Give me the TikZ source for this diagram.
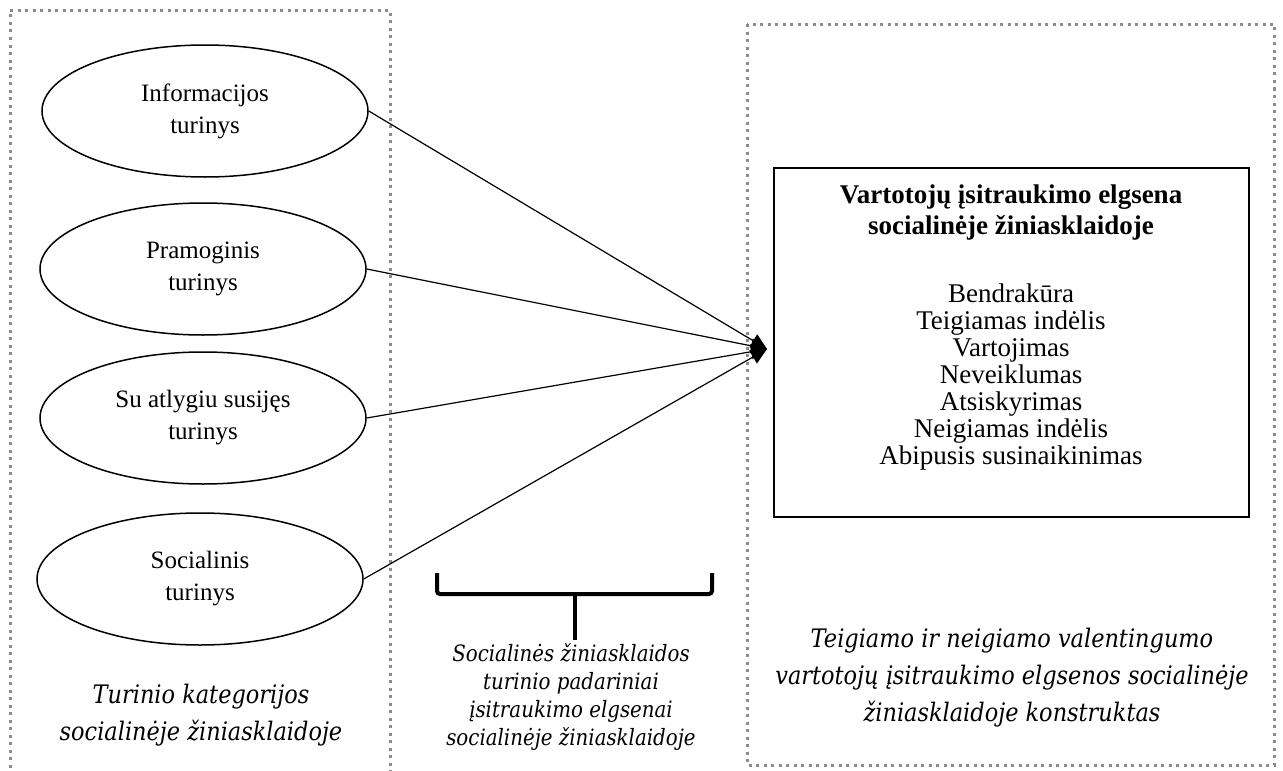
\documentclass[tikz,border=0pt]{standalone}
\usepackage{fontspec}
\setmainfont{Liberation Serif}
\newfontfamily\slabfont{DejaVu Serif}[FakeStretch=0.88]
\usetikzlibrary{shapes.geometric,arrows.meta}

\begin{document}
\begin{tikzpicture}[x=1pt,y=-1pt,
  frame/.style={draw=black!45, line width=3pt, dash pattern=on 3pt off 4.5pt},
  cat/.style={ellipse, draw, line width=1.5pt, minimum width=326pt, minimum height=132pt,
    inner sep=0pt, align=center, font=\fontsize{25}{32}\selectfont},
  link/.style={line width=1.2pt, -{Triangle[length=16pt,width=15pt]}},
  caption/.style={align=center, inner sep=0pt, font=\slabfont\itshape\fontsize{25.5}{37}\selectfont},
  bracestroke/.style={line width=4pt, rounded corners=3pt},
]
\useasboundingbox (0,0) rectangle (1283,771);

% dotted group frames
\draw[frame] (10,790) -- (10,10) -- (390,10) -- (390,790);
\draw[frame] (747,24) rectangle (1274,765);

% content categories
\node[cat] (info) at (205,111) {Informacijos\\turinys};
\node[cat] (fun)  at (203,269) {Pramoginis\\turinys};
\node[cat] (rew)  at (203,418) {Su atlygiu susijęs\\turinys};
\node[cat] (soc)  at (200,579) {Socialinis\\turinys};

% engagement behaviour box
\node[draw, line width=1.8pt, minimum width=475pt, minimum height=349pt, inner sep=0pt]
  (beh) at (1011.5,342.5) {};
\node[align=center, inner sep=0pt, font=\fontsize{27}{27}\selectfont] (behtext) at (1011,328)
  {\textbf{Vartotojų įsitraukimo elgsena}\\[4pt]
   \textbf{socialinėje žiniasklaidoje}\\[41pt]
   Bendrakūra\\Teigiamas indėlis\\Vartojimas\\Neveiklumas\\Atsiskyrimas\\
   Neigiamas indėlis\\Abipusis susinaikinimas};

% effects converging on the behaviour box
\coordinate (tip) at (767,349);
\draw[link] (info.east) -- (tip);
\draw[link] (fun.east) -- (tip);
\draw[link] (rew.east) -- (tip);
\draw[link] (soc.east) -- (tip);

% captions
\node[caption] (catcap) at (201,715) {Turinio kategorijos\\socialinėje žiniasklaidoje};
\node[caption, font=\slabfont\itshape\fontsize{22.5}{28}\selectfont] (effcap) at (571,697)
  {Socialinės žiniasklaidos\\turinio padariniai\\įsitraukimo elgsenai\\socialinėje žiniasklaidoje};
\node[caption] (behcap) at (1012,678)
  {Teigiamo ir neigiamo valentingumo\\vartotojų įsitraukimo elgsenos socialinėje\\žiniasklaidoje konstruktas};

% bracket over the middle caption
\coordinate (brL) at (437,573);
\coordinate (brR) at (712,573);
\coordinate (brM) at (575,594);
\draw[bracestroke] (brL) -- (437,594) -- (712,594) -- (brR);
\draw[line width=4pt] (brM) -- (575,640);
\end{tikzpicture}
\end{document}
